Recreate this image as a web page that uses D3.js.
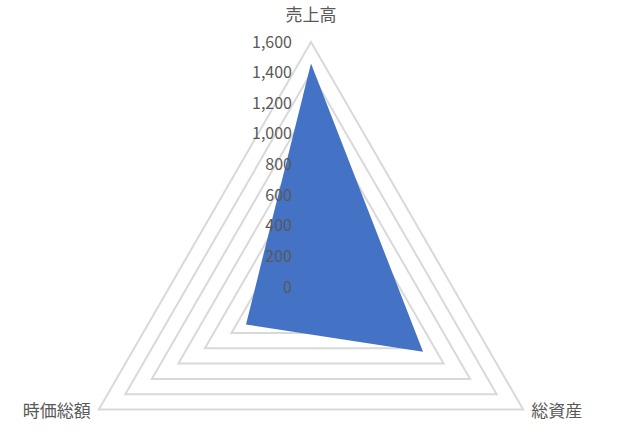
<!DOCTYPE html>
<html>
<head>
<meta charset="utf-8">
<script src="https://cdn.jsdelivr.net/npm/d3@7"></script>
<style>
  body { margin: 0; background: #fff; }
  svg { display: block; }
</style>
</head>
<body>
<svg width="620" height="439"></svg>
<script>
// categories and values
const categories = ['売上高', '総資産', '時価総額']
const values = [1460, 845, 490]
const tickValues = [0, 200, 400, 600, 800, 1000, 1200, 1400, 1600]

const cx = 311
const cy = 287
const radius = 245

const svg = d3.select('svg')

const rScale = d3.scaleLinear().domain([0, 1600]).range([0, radius])
const angle = (i) => (i * 2 * Math.PI) / categories.length

const point = (i, v) => [
  cx + rScale(v) * Math.sin(angle(i)),
  cy - rScale(v) * Math.cos(angle(i))
]

// grid rings (zero ring is only a point)
svg
  .append('g')
  .selectAll('polygon.ring')
  .data(tickValues.filter((t) => t > 0))
  .enter()
  .append('polygon')
  .attr('class', 'ring')
  .attr('points', (t) => categories.map((c, i) => point(i, t).join(',')).join(' '))
  .attr('fill', 'none')
  .attr('stroke', '#d9d9d9')
  .attr('stroke-width', 2)

// data polygon
svg
  .append('polygon')
  .attr('points', values.map((v, i) => point(i, v).join(',')).join(' '))
  .attr('fill', '#4472c4')

// value axis labels
const fmt = d3.format(',')
svg
  .append('g')
  .selectAll('text.tick')
  .data(tickValues)
  .enter()
  .append('text')
  .attr('class', 'tick')
  .attr('x', cx - 19)
  .attr('y', (t) => cy - rScale(t))
  .attr('dy', '0.35em')
  .attr('text-anchor', 'end')
  .attr('font-family', '"Noto Sans CJK JP", sans-serif')
  .attr('font-size', 16)
  .attr('fill', '#595959')
  .text((t) => fmt(t))

// category labels
const labelPos = [
  { x: cx, y: 15, anchor: 'middle' },
  { x: point(1, 1600)[0] + 8, y: 411, anchor: 'start' },
  { x: point(2, 1600)[0] - 8, y: 411, anchor: 'end' }
]
svg
  .append('g')
  .selectAll('text.cat')
  .data(categories)
  .enter()
  .append('text')
  .attr('class', 'cat')
  .attr('x', (d, i) => labelPos[i].x)
  .attr('y', (d, i) => labelPos[i].y)
  .attr('dy', '0.35em')
  .attr('text-anchor', (d, i) => labelPos[i].anchor)
  .attr('font-family', '"Noto Sans CJK JP", sans-serif')
  .attr('font-size', 17)
  .attr('fill', '#595959')
  .text((d) => d)
</script>
</body>
</html>
